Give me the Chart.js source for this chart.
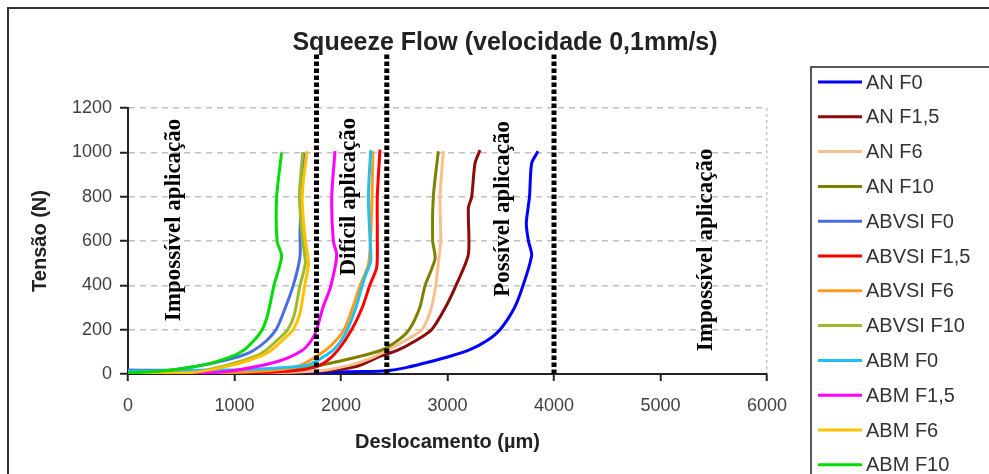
<!DOCTYPE html>
<html lang="pt">
<head>
<meta charset="UTF-8">
<title>Squeeze Flow</title>
<script src="https://cdn.jsdelivr.net/npm/chart.js"></script>
<style>
  html, body { margin: 0; padding: 0; background: #fff; overflow: hidden; }
  #wrap { width: 989px; height: 474px; }
</style>
</head>
<body>
<div id="wrap"><canvas id="grafico"></canvas></div>
<script>
// curvas tensão x deslocamento: [deslocamento (µm), tensão (N)]
const AN_F0 = [[0,5],[1000,6],[1700,8],[2200,11],[2430,15],[2620,30],[2836,55],[3024,80],[3211,110],[3368,150],[3493,200],[3630,300],[3710,400],[3790,535],[3760,600],[3740,680],[3770,800],[3790,950],[3850,1005]];
const AN_F15 = [[0,3],[1200,5],[1800,12],[2150,35],[2366,80],[2523,105],[2700,150],[2850,200],[2980,300],[3080,400],[3196,540],[3196,750],[3227,800],[3258,950],[3305,1010]];
const AN_F6 = [[0,3],[1200,5],[1800,15],[2085,40],[2273,70],[2429,105],[2600,150],[2760,200],[2850,300],[2890,400],[2914,500],[2936,600],[2930,800],[2961,1005]];
const AN_F10 = [[0,3],[1000,5],[1400,12],[1650,25],[1960,55],[2366,105],[2530,150],[2640,200],[2740,300],[2790,400],[2883,520],[2861,600],[2867,800],[2914,1005]];
const ABVSI_F0 = [[0,18],[400,18],[800,50],[1052,80],[1174,105],[1300,150],[1390,200],[1450,265],[1552,400],[1615,530],[1615,640],[1630,800],[1650,1000]];
const ABVSI_F15 = [[0,3],[1000,5],[1500,12],[1750,30],[1870,60],[1975,110],[2100,200],[2200,300],[2270,400],[2335,480],[2341,600],[2341,800],[2366,1012]];
const ABVSI_F6 = [[0,3],[800,5],[1300,15],[1600,35],[1834,100],[1950,150],[2030,200],[2110,300],[2180,400],[2260,500],[2285,700],[2300,1005]];
const ABVSI_F10 = [[0,3],[600,8],[930,40],[1200,80],[1290,105],[1440,170],[1500,200],[1560,265],[1615,400],[1665,500],[1640,600],[1610,800],[1640,1000]];
const ABM_F0 = [[0,12],[800,18],[1200,22],[1678,38],[1803,68],[1920,105],[2000,150],[2060,200],[2140,300],[2200,400],[2226,440],[2279,510],[2273,600],[2257,800],[2279,1010]];
const ABM_F15 = [[0,3],[700,5],[986,15],[1396,55],[1631,105],[1720,150],[1772,200],[1830,300],[1900,390],[1960,535],[1928,600],[1913,800],[1944,1005]];
const ABM_F6 = [[0,3],[620,8],[980,40],[1240,80],[1340,105],[1490,170],[1550,200],[1610,265],[1660,400],[1695,500],[1665,600],[1635,800],[1680,1005]];
const ABM_F10 = [[0,5],[300,12],[700,40],[950,75],[1080,105],[1180,150],[1260,200],[1310,265],[1371,400],[1443,530],[1400,600],[1396,800],[1443,1000]];

const series = ['AN F0', 'AN F1,5', 'AN F6', 'AN F10', 'ABVSI F0', 'ABVSI F1,5', 'ABVSI F6', 'ABVSI F10', 'ABM F0', 'ABM F1,5', 'ABM F6', 'ABM F10'];
const curvas = [AN_F0, AN_F15, AN_F6, AN_F10, ABVSI_F0, ABVSI_F15, ABVSI_F6, ABVSI_F10, ABM_F0, ABM_F15, ABM_F6, ABM_F10];
const cores = ['#0000FF', '#8B0A0A', '#F9C08F', '#808000', '#4A6FE3', '#FF0000', '#FF9A1A', '#9BBB2A', '#22BFF0', '#FF00FF', '#FFC000', '#00DD00'];

// fronteiras entre as zonas de aplicação (µm)
const limites = [1770, 2430, 4000];
const limiteTopo = 1450;
const zonas = ['Impossível aplicação', 'Difícil aplicação', 'Possível aplicação', 'Impossível aplicação'];
const zonaX = [430, 2075, 3520, 5430];
const zonaY = [695, 800, 745, 560];

const datasets = curvas.map((pts, i) => ({
    label: series[i],
    data: pts.map(p => ({ x: p[0], y: p[1] })),
    showLine: true,
    borderColor: cores[i],
    backgroundColor: cores[i],
    borderWidth: 3,
    pointRadius: 0,
    tension: 0.25,
    order: curvas.length - i
}));

limites.forEach(v => datasets.push({
    label: '',
    data: [{ x: v, y: 0 }, { x: v, y: limiteTopo }],
    showLine: true,
    borderColor: '#000',
    borderWidth: 5,
    borderDash: [4.5, 2.5],
    pointRadius: 0,
    clip: false,
    order: -1
}));

// moldura, título, rótulos das zonas e legenda
const extras = {
    id: 'extras',
    beforeDraw(chart) {
        const ctx = chart.ctx;
        ctx.save();
        ctx.strokeStyle = '#333';
        ctx.lineWidth = 2;
        ctx.strokeRect(8, 8, 1000, 500);
        ctx.restore();
    },
    beforeDatasetsDraw(chart) {
        const { ctx, scales: { x, y } } = chart;
        ctx.save();
        ctx.font = 'bold 23px "Liberation Serif", "Times New Roman", serif';
        ctx.fillStyle = '#000';
        ctx.textAlign = 'center';
        ctx.textBaseline = 'middle';
        zonas.forEach((t, i) => {
            ctx.save();
            ctx.translate(x.getPixelForValue(zonaX[i]), y.getPixelForValue(zonaY[i]));
            ctx.rotate(-Math.PI / 2);
            ctx.fillText(t, 0, 0);
            ctx.restore();
        });
        ctx.restore();
    },
    afterDraw(chart) {
        const ctx = chart.ctx;
        ctx.save();
        ctx.font = 'bold 25px "Liberation Sans", Arial, sans-serif';
        ctx.fillStyle = '#222';
        ctx.textAlign = 'center';
        ctx.textBaseline = 'middle';
        ctx.fillText('Squeeze Flow (velocidade 0,1mm/s)', 505, 43);

        // legenda
        ctx.strokeStyle = '#222';
        ctx.lineWidth = 1.5;
        ctx.strokeRect(811, 67, 200, 420);
        ctx.font = '20px "Liberation Sans", Arial, sans-serif';
        ctx.textAlign = 'left';
        chart.data.datasets.filter(d => d.label).forEach((d, i) => {
            const yy = 82 + i * 34.8;
            ctx.strokeStyle = d.borderColor;
            ctx.lineWidth = 3;
            ctx.beginPath();
            ctx.moveTo(818, yy);
            ctx.lineTo(862, yy);
            ctx.stroke();
            ctx.fillStyle = '#333';
            ctx.fillText(d.label, 866, yy + 1);
        });
        ctx.restore();
    }
};

const fonteEixo = { family: '"Liberation Sans", Arial, sans-serif', size: 18 };
const fonteTitulo = { family: '"Liberation Sans", Arial, sans-serif', size: 20, weight: 'bold' };

new Chart(document.getElementById('grafico'), {
    type: 'scatter',
    data: { datasets: datasets },
    options: {
        responsive: true,
        maintainAspectRatio: false,
        animation: false,
        layout: { padding: { left: 8, top: 108, right: 222, bottom: 0 } },
        plugins: { legend: { display: false }, tooltip: { enabled: false } },
        scales: {
            x: {
                type: 'linear',
                min: 0,
                max: 6000,
                ticks: { stepSize: 1000, padding: 14, color: '#404040', font: fonteEixo, callback: v => String(v) },
                grid: {
                    color: c => (c.tick && c.tick.value === 6000) ? '#c8c8c8' : 'rgba(0,0,0,0)',
                    lineWidth: 1.5,
                    tickColor: '#222',
                    tickLength: 7,
                    tickWidth: 2
                },
                border: { color: '#222', width: 2, dash: [3, 3] },
                title: {
                    display: true,
                    text: 'Deslocamento (µm)',
                    color: '#222',
                    font: fonteTitulo,
                    padding: { top: 0, bottom: 20 }
                },
                afterFit: s => { s.height = 100; }
            },
            y: {
                min: 0,
                max: 1200,
                ticks: { stepSize: 200, padding: 8, color: '#404040', font: fonteEixo, callback: v => String(v) },
                grid: { color: '#c0c0c0', lineWidth: 1.5, tickColor: '#222', tickLength: 8, tickWidth: 2 },
                border: { color: '#222', width: 2, dash: [6, 5] },
                title: {
                    display: true,
                    text: 'Tensão (N)',
                    color: '#222',
                    font: fonteTitulo,
                    padding: { top: 20, bottom: 0 }
                },
                afterFit: s => { s.width = 120; }
            }
        }
    },
    plugins: [extras]
});
</script>
</body>
</html>
